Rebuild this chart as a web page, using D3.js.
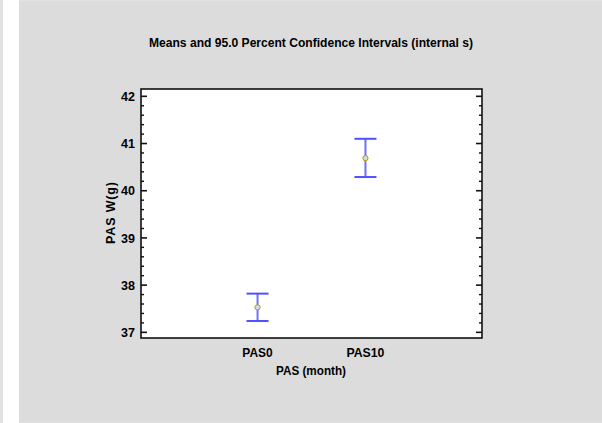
<!DOCTYPE html>
<html><head><meta charset="utf-8">
<script src="https://cdn.jsdelivr.net/npm/d3@7/dist/d3.min.js"></script>
<style>body{margin:0;background:#fff;}svg{display:block;}text{font-family:"Liberation Sans",Arial,sans-serif;font-weight:bold;fill:#000;}</style>
</head><body><svg id="c" width="602" height="423"></svg>
<script>
const categories = ["PAS0", "PAS10"];
const means = [37.53, 40.69];
const lower = [37.24, 40.29];
const upper = [37.82, 41.10];
const yTicks = [37, 38, 39, 40, 41, 42];
const title = "Means and 95.0 Percent Confidence Intervals (internal s)";
const xTitle = "PAS (month)";
const yTitle = "PAS W(g)";

const svg = d3.select("#c");
svg.append("rect").attr("x",0).attr("y",0).attr("width",602).attr("height",423).attr("fill","#e2e2e2");
svg.append("rect").attr("x",3).attr("y",0).attr("width",16).attr("height",423).attr("fill","#ffffff");
svg.append("rect").attr("x",19).attr("y",1).attr("width",583).attr("height",421).attr("fill","#dcdcdc");

const L=141, R=482, T=89, B=338;
const x = d3.scalePoint().domain(categories).range([L,R]).padding(1.08);
const y = d3.scaleLinear().domain([36.88, 42.155]).range([B,T]);

svg.append("rect").attr("x",L).attr("y",T).attr("width",R-L).attr("height",B-T).attr("fill","#fff");

const minor = d3.range(37, 42.01, 0.2).map(v=>+v.toFixed(1));
const gl = svg.append("g").attr("transform",`translate(${L},0)`);
const gr = svg.append("g").attr("transform",`translate(${R},0)`);
minor.forEach(v=>{
  const major = Math.abs(v-Math.round(v))<1e-6;
  const len = major?6:3;
  gl.append("line").attr("x1",0).attr("x2",len).attr("y1",y(v)).attr("y2",y(v)).attr("stroke","#111").attr("stroke-width",major?1.6:1.4);
  gr.append("line").attr("x1",0).attr("x2",-len).attr("y1",y(v)).attr("y2",y(v)).attr("stroke","#111").attr("stroke-width",major?1.6:1.4);
});
yTicks.forEach(v=>{
  svg.append("text").attr("x",135).attr("y",y(v)).attr("dy","0.37em").attr("text-anchor","end").attr("font-size",12.5).text(v);
});
svg.append("rect").attr("x",L).attr("y",T).attr("width",R-L).attr("height",B-T).attr("fill","none").attr("stroke","#111").attr("stroke-width",1.6);

categories.forEach((c,i)=>{
  svg.append("text").attr("x",x(c)).attr("y",356.5).attr("text-anchor","middle").attr("font-size",12.5)
    .attr("textLength", c.length*7.6).attr("lengthAdjust","spacingAndGlyphs").text(c);
});
svg.append("text").attr("x",311).attr("y",374.5).attr("text-anchor","middle").attr("font-size",12.5)
  .attr("textLength",70).attr("lengthAdjust","spacingAndGlyphs").text(xTitle);
svg.append("text").attr("transform",`translate(115,213) rotate(-90)`).attr("text-anchor","middle").attr("font-size",12.5)
  .attr("textLength",62).attr("lengthAdjust","spacing").text(yTitle);
svg.append("text").attr("x",149).attr("y",46.5).attr("font-size",12.5)
  .attr("textLength",324).attr("lengthAdjust","spacingAndGlyphs").text(title);

const g = svg.append("g");
categories.forEach((c,i)=>{
  const cx = x(c);
  g.append("line").attr("x1",cx).attr("x2",cx).attr("y1",y(upper[i])).attr("y2",y(lower[i])).attr("stroke","#6f6fff").attr("stroke-width",2);
  [upper[i], lower[i]].forEach(v=>{
    g.append("line").attr("x1",cx-11).attr("x2",cx+11).attr("y1",y(v)).attr("y2",y(v)).attr("stroke","#5050ff").attr("stroke-width",2);
  });
  g.append("circle").attr("cx",cx).attr("cy",y(means[i])).attr("r",2.6).attr("fill","#d8d8e8").attr("stroke","#a8a000").attr("stroke-width",1);
});
</script></body></html>
